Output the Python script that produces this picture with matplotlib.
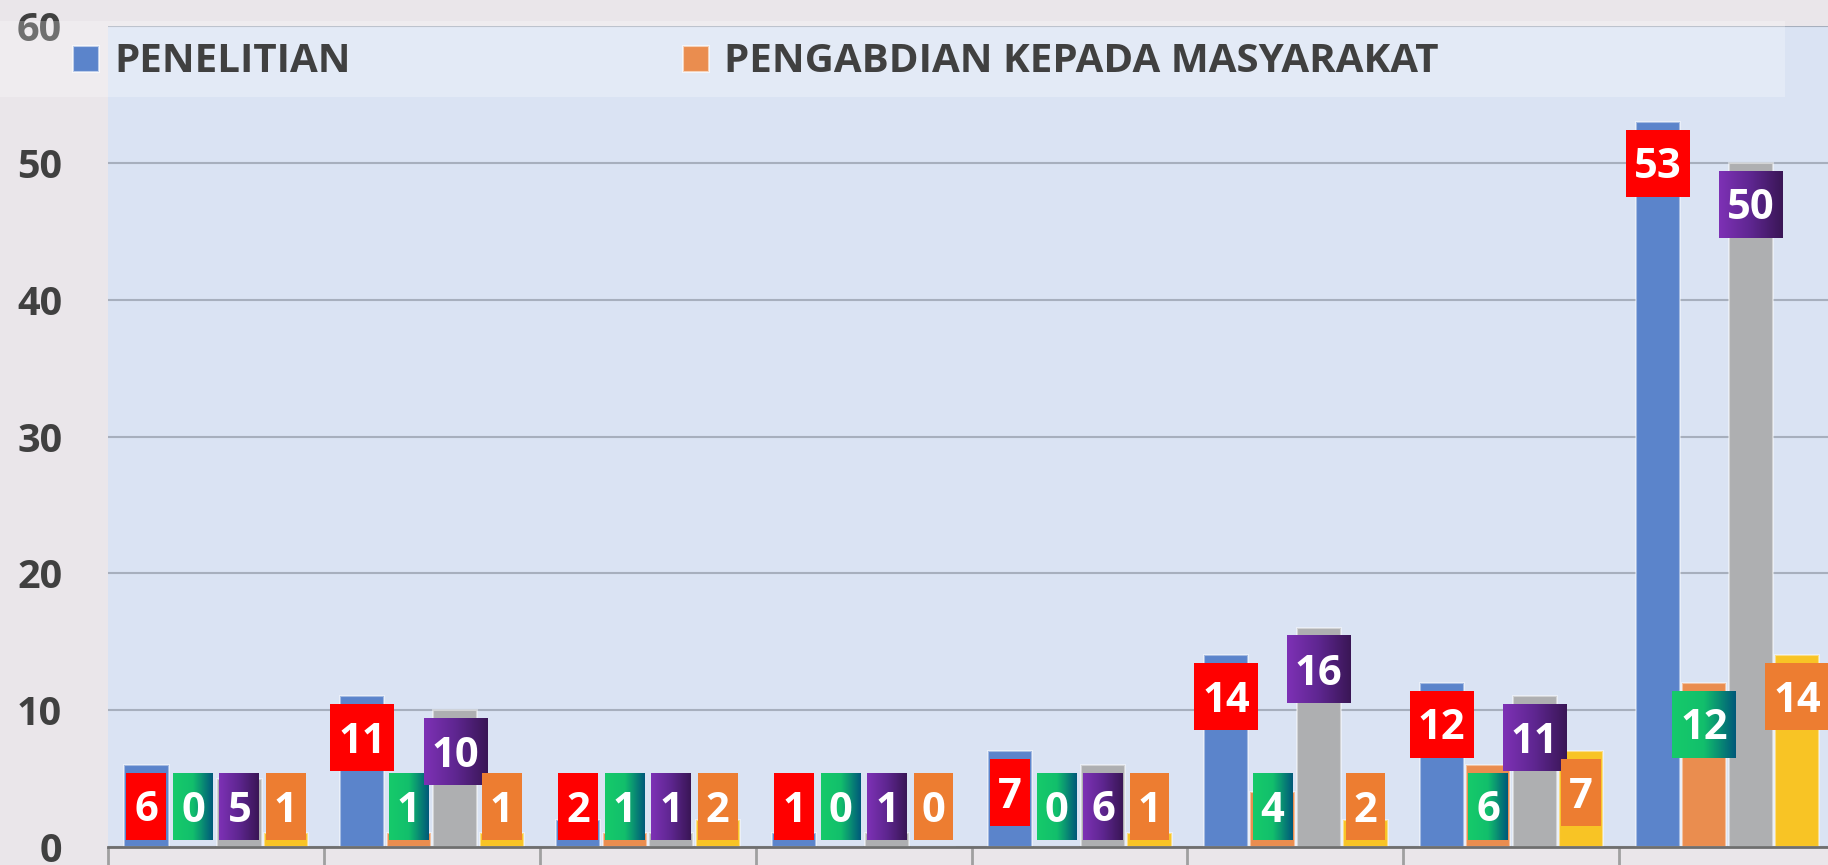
import numpy as np
import matplotlib.pyplot as plt
from matplotlib.patches import Rectangle
from matplotlib.colors import LinearSegmentedColormap

plt.rcParams['font.family'] = ['Open Sans', 'DejaVu Sans']
plt.rcParams['font.weight'] = 'bold'

# data (8 groups, 4 series)
groups = ['1', '2', '3', '4', '5', '6', '7', '8']
penelitian_a = [6, 11, 2, 1, 7, 14, 12, 53]
pengabdian_a = [0, 1, 1, 0, 0, 4, 6, 12]
penelitian_b = [5, 10, 1, 1, 6, 16, 11, 50]
pengabdian_b = [1, 1, 2, 0, 1, 2, 7, 14]
legend_labels = ['PENELITIAN', 'PENGABDIAN KEPADA MASYARAKAT']
y_ticks = [0, 10, 20, 30, 40, 50, 60]

W, H = 1828, 865
fig = plt.figure(figsize=(W / 100, H / 100), dpi=100, facecolor='#EAE6EA')
ax = fig.add_axes([108 / W, 18 / H, (W - 108) / W, (847 - 26) / H])
ax.set_facecolor('#DAE3F3')

series = [penelitian_a, pengabdian_a, penelitian_b, pengabdian_b]
bar_colors = ['#5B84CB', '#EA8D4F', '#AEAFB1', '#F8C425']
x = np.arange(len(groups))
pitch = 0.2154
width = 0.205
for j, (vals, c) in enumerate(zip(series, bar_colors)):
    ax.bar(x + 0.178 + pitch * j, vals, width, color=c,
           edgecolor=(1, 1, 1, 0.45), linewidth=1.5, zorder=2)

ax.set_xlim(0, 7.967)
ax.set_ylim(0, 60)
ax.set_yticks(y_ticks)
ax.set_xticks(x)
ax.set_xticklabels([''] * len(groups))
ax.yaxis.grid(True, color='#A7AFBD', linewidth=1.5)
ax.set_axisbelow(True)
ax.tick_params(axis='y', length=0, pad=33, labelsize=28.5, labelcolor='#404040')
ax.tick_params(axis='x', direction='out', length=13, width=2, color='#A0A0A0')
for s in ['left', 'right', 'top']:
    ax.spines[s].set_visible(False)
ax.spines['bottom'].set_color('#6E6E6E')
ax.spines['bottom'].set_linewidth(2)

# value boxes
fig.canvas.draw()
renderer = fig.canvas.get_renderer()
p0 = ax.transData.transform((0, 0))
p1 = ax.transData.transform((1, 1))
sx, sy = p1[0] - p0[0], p1[1] - p0[1]

green = LinearSegmentedColormap.from_list('g', ['#16CA6A', '#12BF6C', '#00597A'])
purple = LinearSegmentedColormap.from_list('p', ['#7D31B5', '#5E2690', '#3A1656'])
box_fill = ['#FF0000', green, purple, '#ED7D31']
grad = np.linspace(0, 1, 64).reshape(1, -1)

for j, vals in enumerate(series):
    for i, v in enumerate(vals):
        bx = i + 0.178 + pitch * j
        cy = max(v - 41.5 / sy, 40.5 / sy)
        t = ax.text(bx, cy - 15 / sy, str(v), ha='center', va='baseline',
                    fontsize=30, color='white', zorder=5)
        w = t.get_window_extent(renderer).width
        bw = (w + 16) / sx
        bh = 67 / sy
        fill = box_fill[j]
        if isinstance(fill, str):
            ax.add_patch(Rectangle((bx - bw / 2, cy - bh / 2), bw, bh,
                                   facecolor=fill, edgecolor='none', zorder=4))
        else:
            ax.imshow(grad, cmap=fill, aspect='auto', interpolation='bicubic',
                      extent=[bx - bw / 2, bx + bw / 2, cy - bh / 2, cy + bh / 2],
                      zorder=4)

ax.set_xlim(0, 7.967)
ax.set_ylim(0, 60)

# legend band
fig.add_artist(Rectangle((0, (H - 97) / H), 1785 / W, 76 / H, transform=fig.transFigure,
                         facecolor='white', alpha=0.25, edgecolor='none', zorder=3))
legend_pos = [73, 683]
for lx, lab, c in zip(legend_pos, legend_labels, bar_colors[:2]):
    fig.add_artist(Rectangle((lx / W, (H - 72) / H), 26 / W, 26 / H, transform=fig.transFigure,
                             facecolor=c, edgecolor=(1, 1, 1, 0.6), linewidth=1.5, zorder=4))
    fig.text((lx + 41) / W, (H - 72) / H, lab, fontsize=29, color='#404040',
             va='baseline', ha='left', zorder=4)

fig.savefig('out.png', dpi=100, facecolor=fig.get_facecolor())
